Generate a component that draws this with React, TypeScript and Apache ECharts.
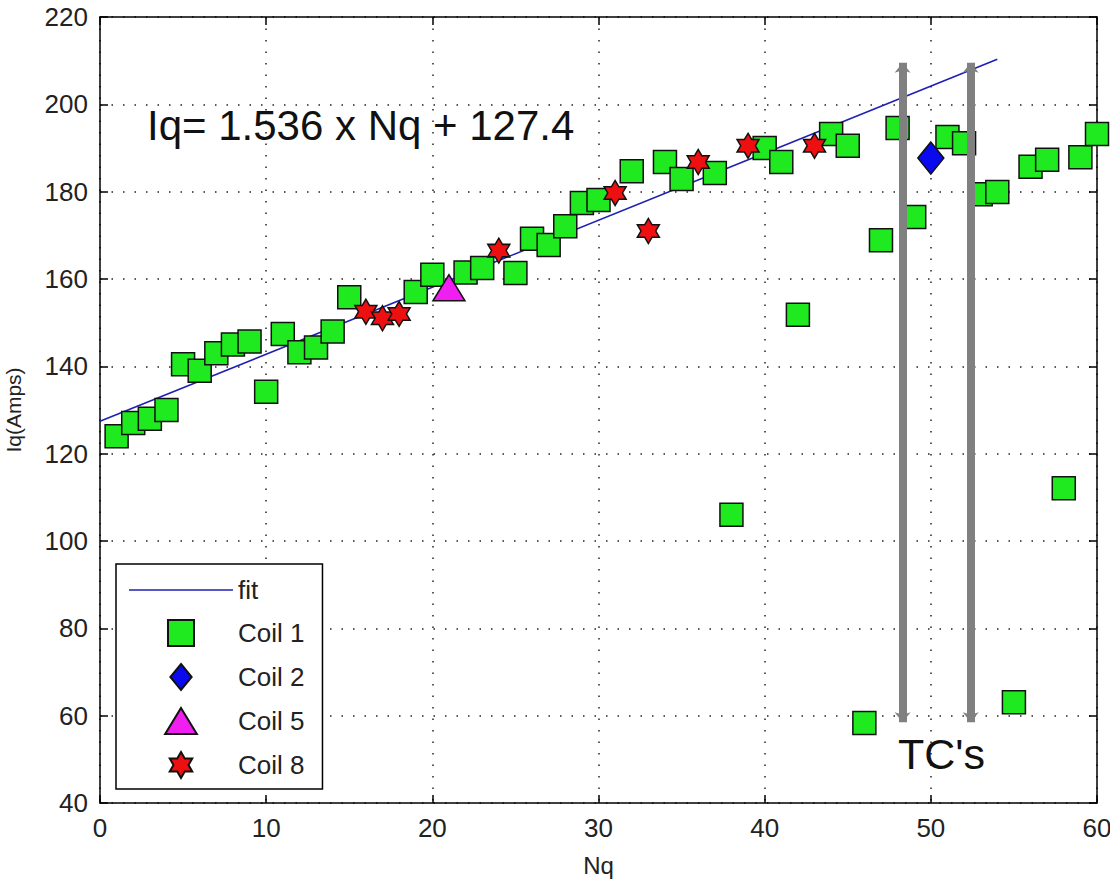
import React, { useEffect, useRef } from "react";
import * as echarts from "echarts";

// Coil 1 (green squares)
const coil1X = [1, 2, 3, 4, 5, 6, 7, 8, 9, 10, 11, 12, 13, 14, 15, 19, 20, 22, 23, 25, 26, 27, 28, 29, 30, 32, 34, 35, 37, 38, 40, 41, 42, 44, 45, 46, 47, 48, 49, 51, 52, 53, 54, 55, 56, 57, 58, 59, 60];
const coil1Y = [124, 127, 128, 130, 140.5, 139, 143, 145, 145.7, 134.2, 147.4, 143.2, 144.3, 148, 155.8, 157, 161, 161.5, 162.5, 161.4, 169.2, 167.8, 172.1, 177.4, 178.1, 184.7, 186.8, 182.9, 184.3, 106, 190, 186.8, 151.8, 193.2, 190.5, 58.3, 168.9, 194.6, 174.2, 192.5, 191.1, 179.4, 179.9, 63.1, 185.7, 187.3, 112.1, 187.9, 193.2];
// Coil 2 (blue diamond)
const coil2X = [50];
const coil2Y = [187.7];
// Coil 5 (magenta triangle)
const coil5X = [21];
const coil5Y = [158];
// Coil 8 (red hexagrams)
const coil8X = [16, 17, 18, 24, 31, 33, 36, 39, 43];
const coil8Y = [152.5, 151, 152, 166.5, 179.7, 171, 186.8, 190.5, 190.5];
// Fit line end points: Iq = 1.536 x Nq + 127.4
const fitX = [0, 54];
const fitY = [127.4, 210.3];
// TC arrows
const arrowX = [48.3, 52.4];
const arrowY = [58.5, 209.5];

const xMin = 0, xMax = 60, xStep = 10;
const yMin = 40, yMax = 220, yStep = 20;

const hexagram =
  "path://M50 0L64.43 25L93.3 25L78.87 50L93.3 75L64.43 75L50 100L35.57 75L6.7 75L21.13 50L6.7 25L35.57 25Z";
const diamondTall = "path://M50 0L95 55L50 110L5 55Z";
const squareIcon = "path://M0 0L100 0L100 100L0 100Z";
const triangleIcon = "path://M50 0L100 82L0 82Z";
const lineIcon = "path://M0 0L100 0L100 1.6L0 1.6Z";

const zip = (xs: number[], ys: number[]) => xs.map((x, i) => [x, ys[i]]);

const FONT = "Liberation Sans, Arial, sans-serif";

export default function App() {
  const ref = useRef<HTMLDivElement>(null);
  useEffect(() => {
    if (!ref.current) return;
    const chart = echarts.init(ref.current, undefined, { renderer: "svg" });
    const gridLine = { show: true, lineStyle: { color: "#222", width: 1.5, type: [1.5, 10] as any } };
    const axisCommon = {
      type: "value" as const,
      axisLine: { show: true, onZero: false, lineStyle: { color: "#000", width: 1.5 } },
      axisTick: { show: true, inside: true, length: 8, lineStyle: { color: "#000", width: 1.5 } },
    };
    const markerBorder = { borderColor: "#111", borderWidth: 1.5, opacity: 1 };
    chart.setOption({
      animation: false,
      backgroundColor: "#fff",
      textStyle: { fontFamily: FONT },
      grid: { left: 100, top: 17, right: 13, bottom: 83, containLabel: false, outerBoundsMode: "none" },
      xAxis: [
        {
          ...axisCommon,
          min: xMin, max: xMax, interval: xStep,
          position: "bottom",
          name: "Nq", nameLocation: "middle", nameGap: 50,
          nameTextStyle: { fontSize: 24, color: "#222", fontFamily: FONT },
          axisLabel: { fontSize: 26, color: "#222", margin: 12, fontFamily: FONT },
          splitLine: gridLine,
        },
        {
          ...axisCommon,
          min: xMin, max: xMax, interval: xStep,
          position: "top",
          axisLabel: { show: false },
          splitLine: { show: false },
        },
      ],
      yAxis: [
        {
          ...axisCommon,
          min: yMin, max: yMax, interval: yStep,
          position: "left",
          name: "Iq(Amps)", nameLocation: "middle", nameGap: 76, nameRotate: 90,
          nameTextStyle: { fontSize: 21, color: "#222", fontFamily: FONT },
          axisLabel: { fontSize: 26, color: "#222", margin: 12, fontFamily: FONT },
          splitLine: gridLine,
        },
        {
          ...axisCommon,
          min: yMin, max: yMax, interval: yStep,
          position: "right",
          axisLabel: { show: false },
          splitLine: { show: false },
        },
      ],
      legend: {
        orient: "vertical",
        left: 116, top: 564,
        padding: [13, 18, 10, 13],
        itemWidth: 104, itemHeight: 26, itemGap: 16,
        symbolKeepAspect: true,
        backgroundColor: "#fff",
        borderColor: "#000", borderWidth: 1.5,
        textStyle: { fontSize: 26, color: "#222", fontFamily: FONT, lineHeight: 26 },
        data: [
          { name: "fit", icon: lineIcon, symbolKeepAspect: true, itemStyle: { color: "#1f1fb4", borderWidth: 0 } },
          { name: "Coil 1", icon: squareIcon, symbolKeepAspect: true },
          { name: "Coil 2", icon: diamondTall, symbolKeepAspect: true },
          { name: "Coil 5", icon: triangleIcon, symbolKeepAspect: true },
          { name: "Coil 8", icon: hexagram, symbolKeepAspect: true },
        ],
      },
      series: [
        {
          name: "fit",
          type: "line",
          data: zip(fitX, fitY),
          symbol: "none",
          lineStyle: { color: "#1f1fb4", width: 1.6 },
          itemStyle: { color: "#1f1fb4" },
          z: 2,
        },
        {
          name: "Coil 1",
          type: "scatter",
          data: zip(coil1X, coil1Y),
          symbol: "rect",
          symbolSize: 23,
          itemStyle: { color: "#1fea1f", ...markerBorder },
          z: 3,
        },
        {
          name: "Coil 2",
          type: "scatter",
          data: zip(coil2X, coil2Y),
          symbol: "diamond",
          symbolSize: [26, 32],
          itemStyle: { color: "#0a0aee", ...markerBorder },
          z: 4,
        },
        {
          name: "Coil 5",
          type: "scatter",
          data: zip(coil5X, coil5Y),
          symbol: "triangle",
          symbolSize: [32, 26],
          itemStyle: { color: "#f01ef0", ...markerBorder },
          z: 4,
        },
        {
          name: "Coil 8",
          type: "scatter",
          data: zip(coil8X, coil8Y),
          symbol: hexagram,
          symbolSize: [22, 25],
          itemStyle: { color: "#ee1010", ...markerBorder },
          z: 4,
        },
        {
          name: "arrows",
          type: "line",
          data: [],
          silent: true,
          z: 5,
          markLine: {
            silent: true,
            symbol: ["arrow", "arrow"],
            symbolSize: [12, 10],
            label: { show: false },
            lineStyle: { color: "#808080", width: 8, type: "solid" },
            data: arrowX.map((x) => [
              { coord: [x, arrowY[0]] },
              { coord: [x, arrowY[1]] },
            ]),
          },
        },
      ],
      graphic: [
        {
          type: "text",
          left: 147,
          top: 104,
          z: 10,
          style: { text: "Iq= 1.536 x Nq + 127.4", fontSize: 42, fill: "#111", fontFamily: FONT },
        },
        {
          type: "text",
          left: 898,
          top: 732,
          z: 10,
          style: { text: "TC's", fontSize: 43, fill: "#111", fontFamily: FONT },
        },
      ],
    });
    return () => chart.dispose();
  }, []);
  return (
    <div
      ref={ref}
      style={{ position: "fixed", left: 0, top: 0, width: 1110, height: 886, background: "#fff" }}
    />
  );
}
